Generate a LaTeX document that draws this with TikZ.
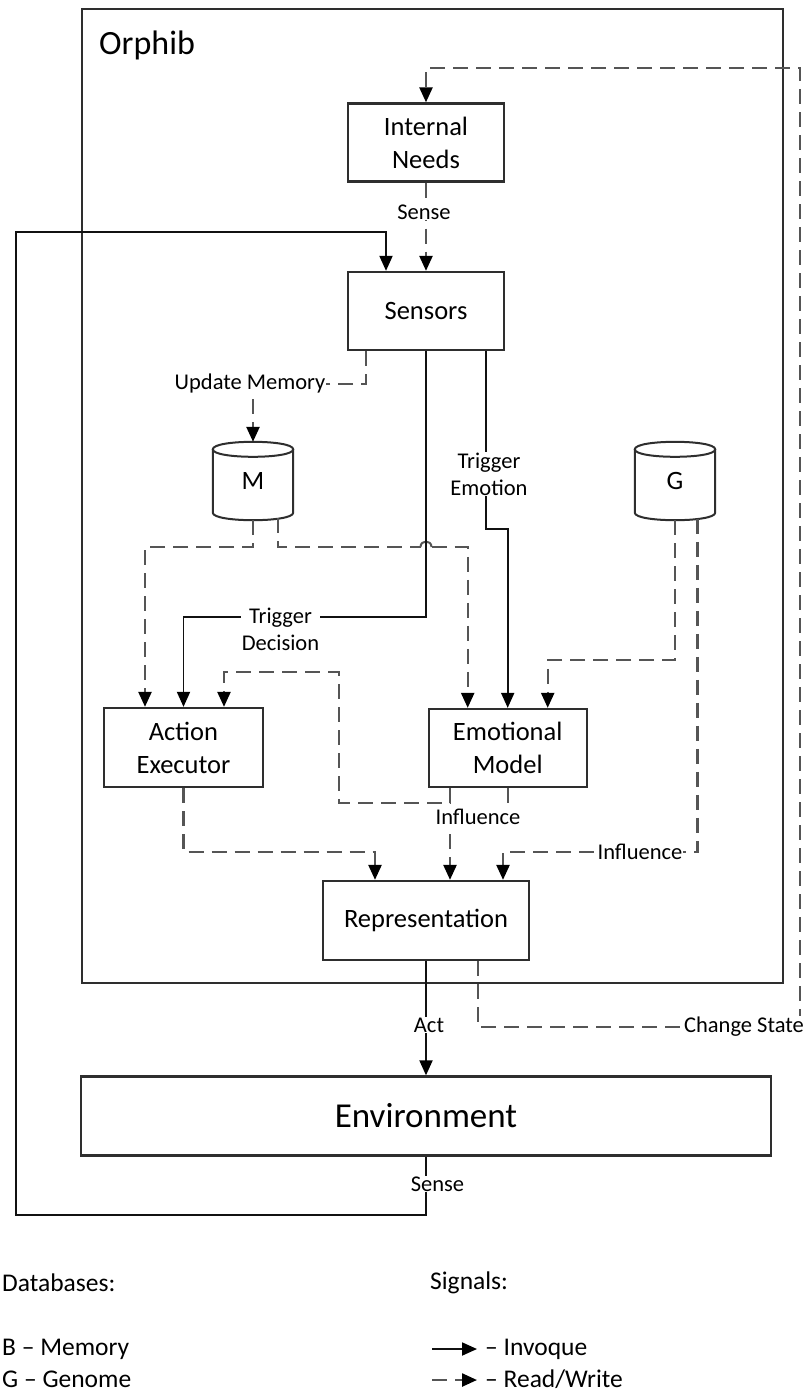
\documentclass[tikz,border=0pt]{standalone}
\usepackage{fontspec}
\setmainfont{Carlito}
\usetikzlibrary{arrows.meta}
\definecolor{boxcol}{HTML}{2E2E2E}
\definecolor{dashcol}{HTML}{555555}
\definecolor{inkcol}{HTML}{111111}

% cylinder outline drawn around a database node
\newcommand\drawdb[1]{%
  \draw[boxcol, line width=2pt]
    ([yshift=-7.5pt]#1.north west) .. controls ([yshift=2.5pt]#1.north west) and ([yshift=2.5pt]#1.north east) .. ([yshift=-7.5pt]#1.north east)
    .. controls ([yshift=-17.5pt]#1.north east) and ([yshift=-17.5pt]#1.north west) .. cycle;
  \draw[boxcol, line width=2pt]
    ([yshift=-7.5pt]#1.north west) -- ([yshift=7.5pt]#1.south west)
    .. controls ([yshift=-2.5pt]#1.south west) and ([yshift=-2.5pt]#1.south east) .. ([yshift=7.5pt]#1.south east)
    -- ([yshift=-7.5pt]#1.north east);
}

\begin{document}
\begin{tikzpicture}[x=1pt,y=-1pt,
  box/.style={draw=boxcol, line width=2.3pt, minimum width=156pt, minimum height=78pt,
    align=center, inner sep=0pt, font=\fontsize{26.5}{33}\selectfont},
  db/.style={minimum width=80pt, minimum height=78pt, inner sep=0pt, font=\fontsize{26.5}{30}\selectfont},
  tip/.style={-{Triangle[length=15pt,width=13pt,color=black]}},
  inv/.style={draw=inkcol, line width=1.9pt},
  rw/.style={draw=dashcol, line width=2.4pt, dash pattern=on 15pt off 8pt},
  lbl/.style={fill=white, inner sep=1pt, align=center, font=\fontsize{22.5}{27}\selectfont},
  legend/.style={anchor=west, inner sep=0pt, font=\fontsize{25.5}{30}\selectfont},
]
\useasboundingbox (0,0) rectangle (808,1394);

% system boundary
\node[draw=boxcol, line width=2.3pt, minimum width=701pt, minimum height=974pt, inner sep=0pt] (orphib) at (432.5,496) {};
\node[anchor=west, inner sep=0pt, font=\fontsize{34}{40}\selectfont] (orphibname) at (99,45) {Orphib};

% components
\node[box] (needs) at (426,142.5) {Internal\\Needs};
\node[box] (sensors) at (426,311) {Sensors};
\node[db] (m) at (253,481) {M};
\node[db] (g) at (675,481) {G};
\drawdb{m}
\drawdb{g}
\node[box, minimum width=159pt, minimum height=79pt] (ae) at (183.5,747.5) {Action\\Executor};
\node[box, minimum width=158pt, minimum height=78pt] (em) at (507.7,748) {Emotional\\Model};
\node[box, minimum width=206pt, minimum height=79pt] (rep) at (426,920.5) {Representation};
\node[box, minimum width=690pt, minimum height=79pt, font=\fontsize{35}{40}\selectfont] (env) at (426,1116) {Environment};

% crossing hop of the memory line over the decision trigger
\coordinate (hopL) at (420.5,547);
\coordinate (hopR) at (431.5,547);

% read/write signals
\draw[rw,tip] ([xshift=52pt]rep.south) |- (800,1027) |- (426,68) -- (needs.north);
\draw[rw,tip] (needs.south) -- (sensors.north);
\draw[rw,tip] ([xshift=-60pt]sensors.south) -- ++(0,33) -| (m.north);
\draw[rw,tip] (m.south) -- ++(0,27) -| ([xshift=-38.5pt]ae.north);
\draw[rw] ([xshift=25pt,yshift=2pt]m.south) |- (hopL);
\draw[dashcol, line width=2pt] (hopL) .. controls (420.5,539.7) and (431.5,539.7) .. (hopR);
\draw[rw,tip] (hopR) -| ([xshift=-40pt]em.north);
\draw[rw,tip] (g.south) -- ++(0,140) -| ([xshift=40pt]em.north);
\draw[rw,tip] ([xshift=22.5pt,yshift=1.3pt]g.south) |- (503,852) -- ([xshift=77pt]rep.north);
\draw[rw,tip] ([xshift=-57.7pt]em.south) |- (339,803) |- (224,672) -- ([xshift=40.5pt]ae.north);
\draw[rw,tip] ([xshift=-57.7pt]em.south) -- ([xshift=24pt]rep.north);
\draw[rw] (em.south) -- ++(0,18);
\draw[rw,tip] (ae.south) |- (375,852) -- ([xshift=-51pt]rep.north);

% invocations
\draw[inv,tip] (env.south) |- (16,1215) |- (386,232) -- ([xshift=-40pt]sensors.north);
\draw[inv,tip] (sensors.south) -- ++(0,266) -| (ae.north);
\draw[inv,tip] ([xshift=60pt]sensors.south) -- ++(0,178) -| (em.north);
\draw[inv,tip] (rep.south) -- (env.north);

% signal labels
\node[lbl] (lsense1) at (424,212) {Sense};
\node[lbl] (lupdate) at (250,383) {Update Memory};
\node[lbl] (ltrigemo) at (489,474) {Trigger\\Emotion};
\node[lbl] (ltrigdec) at (280.5,629.5) {Trigger\\Decision};
\node[lbl] (linfl1) at (478,817) {Influence};
\node[lbl] (linfl2) at (640,852) {Influence};
\node[lbl] (lact) at (429,1025) {Act};
\node[lbl] (lchange) at (744,1027) {Change State};
\node[lbl] (lsense2) at (437.5,1184) {Sense};

% legend
\node[legend] (dbhead) at (2,1283) {Databases:};
\node[legend] (sighead) at (430,1283) {Signals:};
\node[legend] (dbm) at (2,1349) {B – Memory};
\node[legend] (dbg) at (2,1379) {G – Genome};
\coordinate (invA) at (432,1349);
\coordinate (invB) at (477,1349);
\coordinate (rwA) at (432,1380);
\coordinate (rwB) at (477,1380);
\draw[inv,tip] (invA) -- (invB);
\draw[rw,tip] (rwA) -- (rwB);
\node[legend] (linv) at (485,1349) {– Invoque};
\node[legend] (lrw) at (485,1379) {– Read/Write};
\end{tikzpicture}
\end{document}
